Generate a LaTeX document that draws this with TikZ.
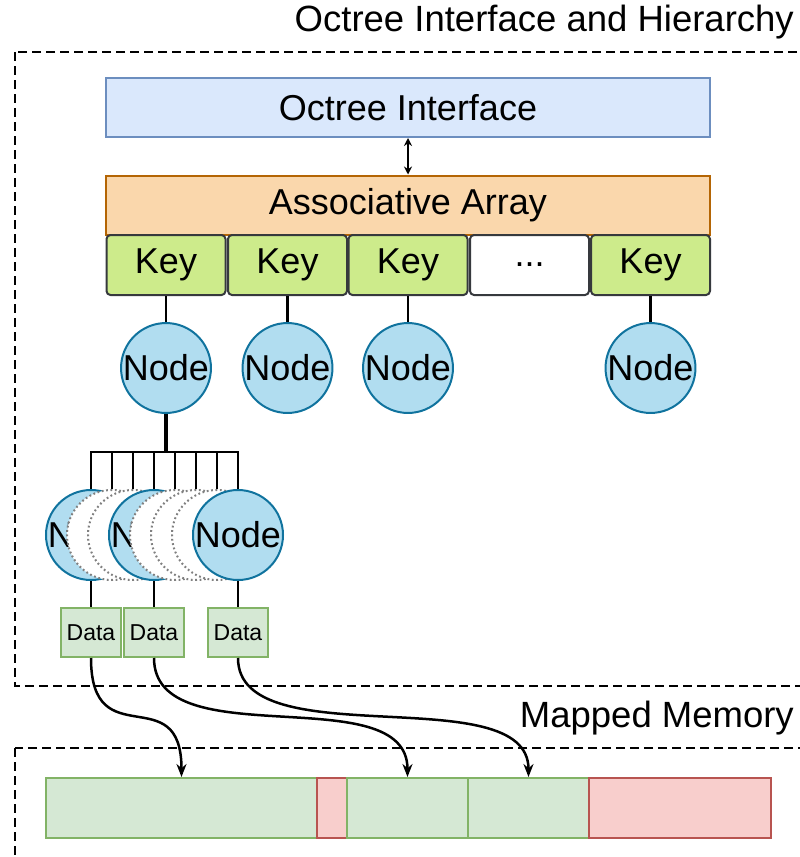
\documentclass[tikz,border=0pt]{standalone}
\usepackage{fontspec}
\setmainfont{Liberation Sans}
\usetikzlibrary{arrows.meta}
\definecolor{ifacefill}{HTML}{DAE8FC}
\definecolor{ifaceline}{HTML}{6C8EBF}
\definecolor{arrayfill}{HTML}{FAD7AC}
\definecolor{arrayline}{HTML}{B46504}
\definecolor{keyfill}{HTML}{CDEB8B}
\definecolor{keyline}{HTML}{36393D}
\definecolor{nodefill}{HTML}{B1DDF0}
\definecolor{nodeline}{HTML}{10739E}
\definecolor{datafill}{HTML}{D5E8D4}
\definecolor{dataline}{HTML}{82B366}
\definecolor{freefill}{HTML}{F8CECC}
\definecolor{freeline}{HTML}{B85450}

\begin{document}
\begin{tikzpicture}[x=1pt,y=-1pt,
  big/.style={font=\fontsize{36}{40}\selectfont},
  bar/.style={draw, big, line width=2pt, minimum width=604pt, minimum height=59pt, inner sep=0pt},
  keybox/.style={draw=keyline, fill=keyfill, big, line width=2pt, rounded corners=4pt, minimum width=119pt, minimum height=60pt, inner sep=0pt},
  octnode/.style={circle, draw=nodeline, fill=nodefill, big, line width=2pt, minimum size=88pt, inner sep=0pt},
  ghost/.style={circle, draw=gray, fill=white, line width=2pt, dash pattern=on 1.8pt off 2.6pt, minimum size=90pt, inner sep=0pt},
  databox/.style={draw=dataline, fill=datafill, line width=2pt, minimum width=60pt, minimum height=49pt, inner sep=0pt, font=\fontsize{23}{26}\selectfont},
  used/.style={draw=dataline, fill=datafill, line width=2pt, minimum height=60pt, inner sep=0pt},
  free/.style={draw=freeline, fill=freefill, line width=2pt, minimum height=60pt, inner sep=0pt},
  wire/.style={line width=2.5pt},
  tip/.style={-{Stealth[length=13pt,width=10pt]}},
  frame/.style={draw, line width=2.5pt, dash pattern=on 9pt off 5pt},
  title/.style={font=\fontsize{36.5}{40}\selectfont, anchor=east, inner sep=0pt}]
\clip (0,0) rectangle (800,857);

% containers
\draw[frame] (15,52) rectangle (815,686);
\draw[frame] (15,748) rectangle (815,890);
\node[title] (t1) at (794,22) {Octree Interface and Hierarchy};
\node[title] (t2) at (794,718) {Mapped Memory};

% interface and array
\node[bar, draw=ifaceline, fill=ifacefill] (oi) at (408,107.5) {Octree Interface};
\node[bar, draw=arrayline, fill=arrayfill] (aa) at (408,205) {Associative Array};
\draw[line width=2pt, {Stealth[length=8pt,width=8pt]}-{Stealth[length=8pt,width=8pt]}] (oi) -- (aa);

\node[keybox] (k1) at (166,265) {Key};
\node[keybox] (k2) at (287.5,265) {Key};
\node[keybox] (k3) at (408,265) {Key};
\node[keybox, fill=white] (kd) at (529.5,265) {...};
\node[keybox] (k5) at (650.5,265) {Key};

% top level nodes
\node[octnode] (n1) at (166,368) {Node};
\node[octnode] (n2) at (287.5,368) {Node};
\node[octnode] (n3) at (408,368) {Node};
\node[octnode] (n5) at (650.5,368) {Node};
\draw[wire] (k1) -- (n1);
\draw[wire] (k2) -- (n2);
\draw[wire] (k3) -- (n3);
\draw[wire] (k5) -- (n5);

% children
\coordinate (bus) at (166,452);
\draw[line width=4pt] (n1) -- (bus);
\node[octnode, minimum size=90pt] (c1) at (91,535) {Node};
\node[ghost] (c2) at (112,535) {};
\node[ghost] (c3) at (133,535) {};
\node[octnode, minimum size=90pt] (c4) at (154,535) {Node};
\node[ghost] (c5) at (175,535) {};
\node[ghost] (c6) at (196,535) {};
\node[ghost] (c7) at (217,535) {};
\node[octnode, minimum size=90pt] (c8) at (238,535) {Node};
\foreach \c in {c1,c2,c3,c4,c5,c6,c7,c8}
  \draw[wire] (\c.north) |- (bus);

% data blocks
\node[databox] (d1) at (91,632.5) {Data};
\node[databox] (d2) at (154,632.5) {Data};
\node[databox] (d3) at (238,632.5) {Data};
\draw[wire] (c1) -- (d1);
\draw[wire] (c4) -- (d2);
\draw[wire] (c8) -- (d3);

% mapped memory
\node[used, minimum width=271pt] (m1) at (181.5,808) {};
\node[free, minimum width=30pt] (m2) at (332,808) {};
\node[used, minimum width=121pt] (m3) at (407.5,808) {};
\node[used, minimum width=121pt] (m4) at (528.5,808) {};
\node[free, minimum width=182pt] (m5) at (680,808) {};
\draw[wire, tip] (d1.south) .. controls +(0,100) and +(0,-100) .. (m1.north);
\draw[wire, tip] (d2.south) .. controls +(0,100) and +(0,-100) .. (m3.north);
\draw[wire, tip] (d3.south) .. controls +(0,100) and +(0,-100) .. (m4.north);
\end{tikzpicture}
\end{document}
